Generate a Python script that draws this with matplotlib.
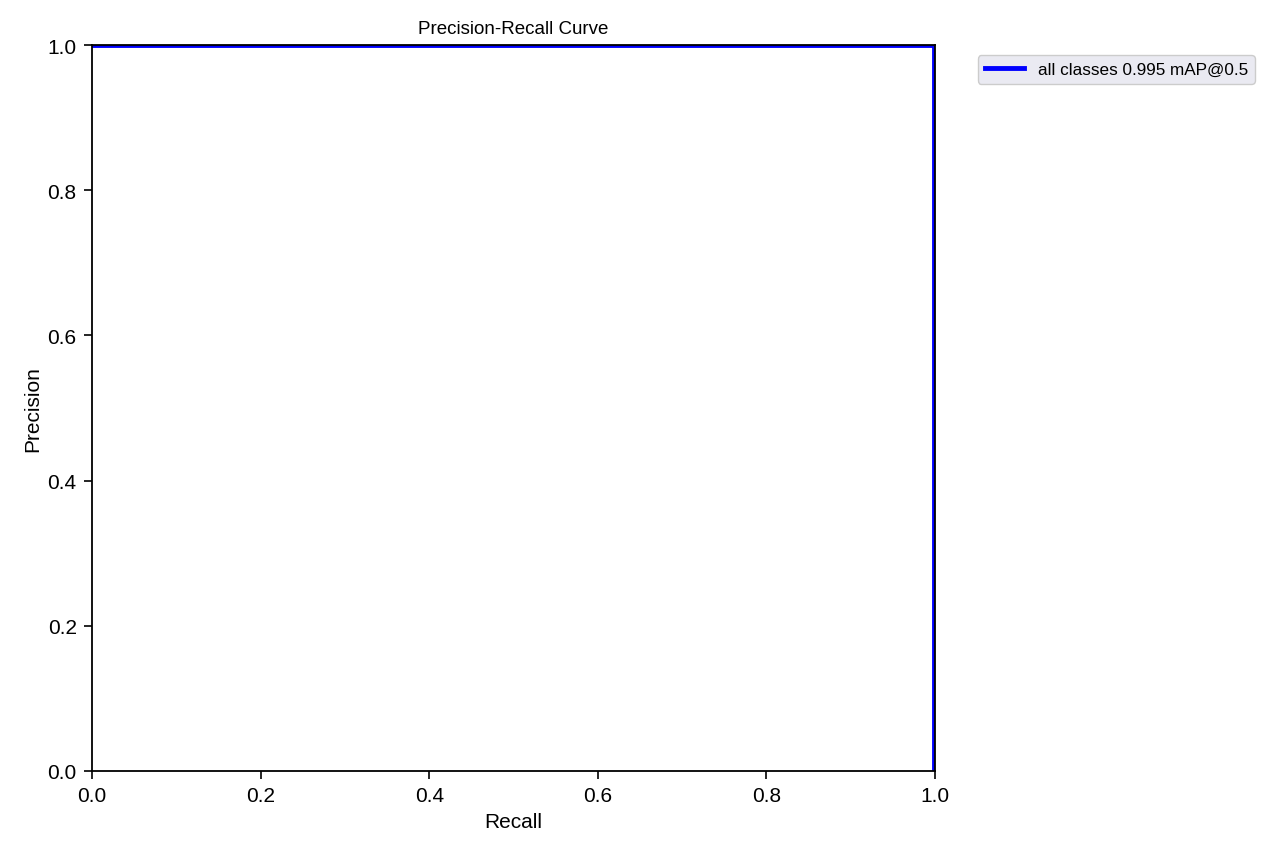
import matplotlib
matplotlib.use("Agg")
import matplotlib.pyplot as plt

plt.rcParams['font.family'] = ['Liberation Sans', 'DejaVu Sans']

recall = [0.0, 0.999, 0.999, 1.0]
precision = [1.0, 1.0, 0.0, 0.0]
label = "all classes 0.995 mAP@0.5"

fig = plt.figure(figsize=(12.8, 8.53), dpi=100)
ax = fig.add_axes([92/1280, 1 - 772/853, (935 - 92)/1280, (772 - 46)/853])
ax.plot(recall, precision, color='blue', linewidth=3.5, label=label)
ax.set_xlim(0, 1)
ax.set_ylim(0, 1)
ax.set_xlabel("Recall", fontsize=15, labelpad=5)
ax.set_ylabel("Precision", fontsize=15, labelpad=4)
ax.set_title("Precision-Recall Curve", fontsize=13.5, pad=9)
ax.tick_params(labelsize=15, length=6, width=1.2, pad=5)
for s in ax.spines.values():
    s.set_linewidth(1.3)
    s.set_color('black')
leg = ax.legend(bbox_to_anchor=(1.051, 0.986), loc='upper left', fontsize=12.3,
                facecolor='#EAEAF2', edgecolor='#cccccc', framealpha=1,
                handlelength=2.3, borderaxespad=0)
fig.savefig("out.png", dpi=100)
